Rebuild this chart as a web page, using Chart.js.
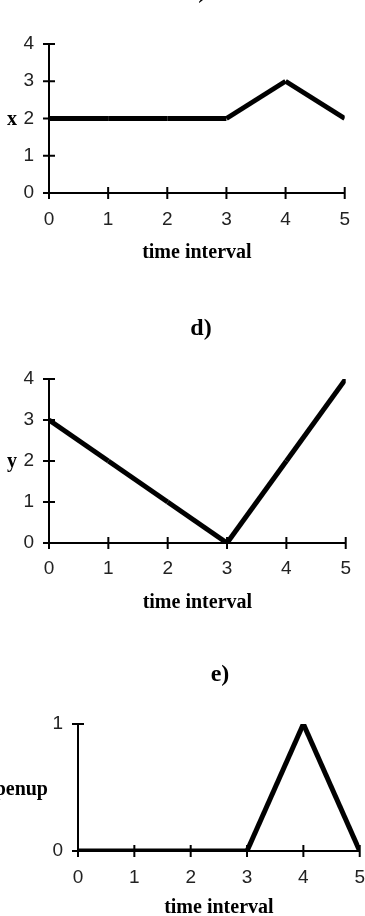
<!DOCTYPE html>
<html>
<head>
<meta charset="utf-8">
<script src="https://cdn.jsdelivr.net/npm/chart.js@4/dist/chart.umd.min.js"></script>
<style>
  html, body { margin:0; padding:0; background:#fff; }
  #page { position:relative; width:365px; height:916px; overflow:hidden; background:#fff; }
  .cv { position:absolute; left:0; }
  .lbl { position:absolute; font:bold 20px 'Liberation Serif','Times New Roman',serif; color:#000; white-space:nowrap; line-height:1; }
  .ttl { font-size:24px; }
</style>
</head>
<body>
<div id="page">
  <canvas id="c1" class="cv" width="365" height="270" style="top:0"></canvas>
  <canvas id="c2" class="cv" width="365" height="350" style="top:270px"></canvas>
  <canvas id="c3" class="cv" width="380" height="310" style="top:620px"></canvas>

  <div class="lbl ttl" style="left:197px;top:-10px;transform:translate(-50%,-50%)">c)</div>
  <div class="lbl ttl" style="left:201px;top:327px;transform:translate(-50%,-50%)">d)</div>
  <div class="lbl ttl" style="left:220px;top:673px;transform:translate(-50%,-50%)">e)</div>

  <div class="lbl" style="left:12px;top:118px;transform:translate(-50%,-50%)">x</div>
  <div class="lbl" style="left:12px;top:460px;transform:translate(-50%,-50%)">y</div>
  <div class="lbl" style="right:317px;top:788px;transform:translateY(-50%)">openup</div>
</div>
<script>
// time intervals shared by all three panels
const times = [0, 1, 2, 3, 4, 5];
// c) x position
const xVals = [2, 2, 2, 2, 3, 2];
// d) y position
const yVals = [3, 2, 1, 0, 2, 4];
// e) openup
const openVals = [0, 0, 0, 0, 1, 0];

const SANS = "'Liberation Sans', Arial, sans-serif";
const SERIF = "'Liberation Serif', 'Times New Roman', serif";

// axis tick marks that cross the axis line
const crossTicks = {
  id: 'crossTicks',
  beforeDatasetsDraw(chart) {
    const {ctx, chartArea: a, scales: {x, y}} = chart;
    ctx.save();
    ctx.strokeStyle = '#000'; ctx.lineWidth = 2;
    x.ticks.forEach(t => {
      const px = x.getPixelForValue(t.value);
      ctx.beginPath(); ctx.moveTo(px, a.bottom - 6); ctx.lineTo(px, a.bottom + 6); ctx.stroke();
    });
    y.ticks.forEach(t => {
      const py = y.getPixelForValue(t.value);
      ctx.beginPath(); ctx.moveTo(a.left - 6, py); ctx.lineTo(a.left + 6, py); ctx.stroke();
    });
    ctx.restore();
  }
};

function makeChart(id, vals, yMax, pad, yWidth, xHeight, xPad) {
  return new Chart(document.getElementById(id), {
    type: 'line',
    data: {
      datasets: [{
        data: times.map((t, i) => ({x: t, y: vals[i]})),
        borderColor: '#000',
        borderWidth: 5,
        borderCapStyle: 'butt',
        pointRadius: 0,
        tension: 0,
        // alternate near-identical colours so each segment is stroked on its own
        segment: { borderColor: c => c.p0DataIndex % 2 ? '#000000' : '#010101' }
      }]
    },
    options: {
      responsive: false,
      animation: false,
      layout: { padding: pad },
      plugins: { legend: {display:false}, tooltip: {enabled:false} },
      scales: {
        x: {
          type: 'linear', min: 0, max: 5,
          grid: { drawOnChartArea:false, drawTicks:false },
          border: { display:true, color:'#000', width:2 },
          ticks: { stepSize:1, padding:xPad, color:'#222', font:{family:SANS, size:19} },
          title: { display:true, text:'time interval', color:'#000', padding:0,
                   font:{family:SERIF, size:20, weight:'bold'} },
          afterFit: s => { s.height = xHeight; }
        },
        y: {
          min: 0, max: yMax,
          grid: { drawOnChartArea:false, drawTicks:false },
          border: { display:true, color:'#000', width:2 },
          ticks: { stepSize:1, padding:15, color:'#222', font:{family:SANS, size:19} },
          afterFit: s => { s.width = yWidth; }
        }
      }
    },
    plugins: [crossTicks]
  });
}

makeChart('c1', xVals, 4, {top:44, left:0, right:15, bottom:5}, 49, 72, 15);
makeChart('c2', yVals, 4, {top:109, left:0, right:15, bottom:5}, 49, 72, 14);
makeChart('c3', openVals, 1, {top:104, left:0, right:17, bottom:10}, 78, 69, 15);
</script>
</body>
</html>
